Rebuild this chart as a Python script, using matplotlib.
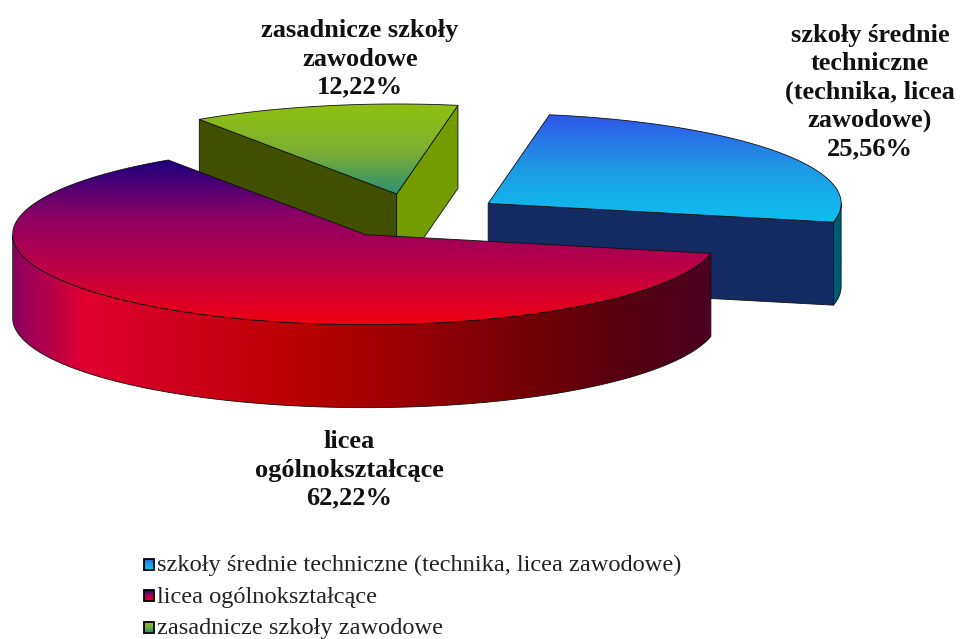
import numpy as np
import matplotlib
matplotlib.use("Agg")
import matplotlib.pyplot as plt
from matplotlib.colors import LinearSegmentedColormap as LSC
from matplotlib.patches import Polygon

# data
labels = ["szkoły średnie techniczne (technika, licea zawodowe)",
          "licea ogólnokształcące",
          "zasadnicze szkoły zawodowe"]
values = [25.56, 62.22, 12.22]
slice_labels = ["szkoły średnie\ntechniczne\n(technika, licea\nzawodowe)\n25,56%",
                "licea\nogólnokształcące\n62,22%",
                "zasadnicze szkoły\nzawodowe\n12,22%"]
label_pos = [(870, 92), (349, 470), (360, 59)]

# pie geometry, pixels
cx, cy = 415, 216
rx, ry = 353, 90
depth = 83
explode = 0.25
start = 80

top_cmaps = [LSC.from_list("b", ["#2f55e8", "#1f9ae6", "#0cc0f0"]),
             LSC.from_list("r", ["#1c0080", "#8a0064", "#c00045", "#f00010"]),
             LSC.from_list("g", ["#90c010", "#7fb030", "#2e9070"])]
rim_cmaps = [LSC.from_list("bs", ["#005a70", "#005a70"]),
             LSC.from_list("rs", [(0, "#8a0060"), (0.1, "#e00030"), (0.42, "#b80000"),
                                  (0.75, "#700008"), (0.88, "#550010"), (1, "#4d0020")]),
             None]
start_walls = [None, None, "#405000"]
end_walls = ["#142a63", None, "#729c00"]

fig = plt.figure(figsize=(9.61, 6.39), dpi=100)
ax = fig.add_axes([0, 0, 1, 1])
ax.set_xlim(0, 961)
ax.set_ylim(639, 0)
ax.axis("off")


def grad(cmap, xs, ys, horizontal=False):
    # gradient image clipped to the polygon
    poly = Polygon(np.column_stack([xs, ys]), closed=True, fc="none", ec="none")
    ax.add_patch(poly)
    g = np.linspace(0, 1, 256)
    g = g[None, :] if horizontal else g[:, None]
    im = ax.imshow(g, cmap=cmap, aspect="auto", vmin=0, vmax=1, zorder=poly.get_zorder(),
                   extent=[min(xs), max(xs), max(ys), min(ys)], interpolation="bilinear")
    im.set_clip_path(poly)
    ax.set_xlim(0, 961)
    ax.set_ylim(639, 0)


def edge(xs, ys, color="#101010", lw=0.6):
    ax.add_patch(Polygon(np.column_stack([xs, ys]), closed=True, fc="none", ec=color, lw=lw))


# angles go clockwise from start
shares = np.array(values) / sum(values) * 360
t_starts = start - np.concatenate([[0], np.cumsum(shares)[:-1]])
t_ends = t_starts - shares

# back to front: green, blue, red
for i in [2, 0, 1]:
    t0, t1 = t_starts[i], t_ends[i]
    mid = np.radians((t0 + t1) / 2)
    ax_, ay_ = cx + explode * rx * np.cos(mid), cy - explode * ry * np.sin(mid)
    ts = np.radians(np.linspace(t0, t1, 300))
    ex, ey = ax_ + rx * np.cos(ts), ay_ - ry * np.sin(ts)

    # cut walls
    for wall, t, px, py in [(start_walls[i], t0, ex[0], ey[0]), (end_walls[i], t1, ex[-1], ey[-1])]:
        if wall:
            ax.add_patch(Polygon([(ax_, ay_), (px, py), (px, py + depth), (ax_, ay_ + depth)],
                                 closed=True, fc=wall, ec="#101010", lw=0.6))

    # outer rim, only the part facing the viewer
    front = np.sin(ts) <= 0
    if rim_cmaps[i] is not None and front.any():
        rxs = np.concatenate([ex[front], ex[front][::-1]])
        rys = np.concatenate([ey[front], ey[front][::-1] + depth])
        grad(rim_cmaps[i], rxs, rys, horizontal=True)
        edge(rxs, rys)

    # top face
    txs = np.concatenate([[ax_], ex])
    tys = np.concatenate([[ay_], ey])
    grad(top_cmaps[i], txs, tys)
    edge(txs, tys)

# slice labels
for lab, (x, y) in zip(slice_labels, label_pos):
    ax.text(x, y, lab, ha="center", va="center", family="Liberation Serif", weight="bold",
            fontsize=19, linespacing=1.28, color="#111111")

# legend
for i, lab in enumerate(labels):
    y = 564.5 + i * 31.5
    xs = [144, 154, 154, 144]
    ys = [y - 6, y - 6, y + 5, y + 5]
    grad(top_cmaps[i], xs, ys)
    edge(xs, ys, color="black", lw=1.3)
    ax.text(157, y + 6.5, lab, ha="left", va="baseline", family="Liberation Serif",
            fontsize=17.6, color="#222222")

fig.savefig("out.png", dpi=100)
